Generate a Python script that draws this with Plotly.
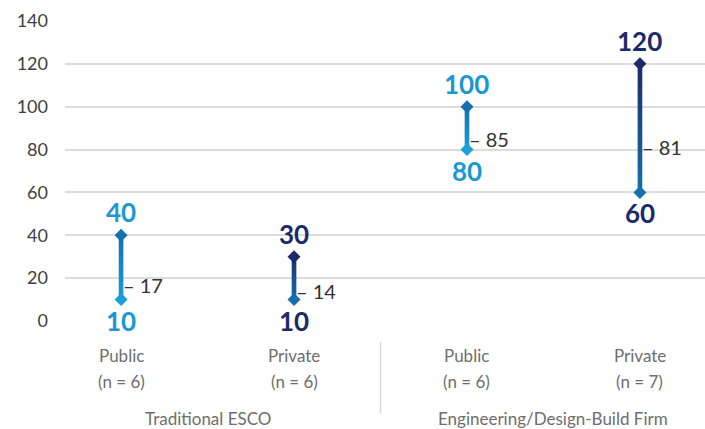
import plotly.graph_objects as go

categories = ["Public", "Private", "Public", "Private"]
n_labels = ["(n = 6)", "(n = 6)", "(n = 6)", "(n = 7)"]
groups = ["Traditional ESCO", "Engineering/Design-Build Firm"]
low = [10, 10, 80, 60]
high = [40, 30, 100, 120]
mean = [17, 14, 85, 81]
kind = ["public", "private", "public", "private"]

LIGHT = "#1b9ed9"
MID = "#1570b0"
NAVY = "#1c2a6b"
top_col = {"public": MID, "private": NAVY}
bot_col = {"public": LIGHT, "private": MID}
lab_col = {"public": "#1b97d4", "private": NAVY}
FONT = "Lato, Open Sans, sans-serif"

HW = 0.0135  # half bar width in x-axis units (~2.3 px)

fig = go.Figure()
xs = list(range(len(categories)))
for i in xs:
    k = kind[i]
    fig.add_trace(go.Scatter(
        x=[i - HW, i + HW, i + HW, i - HW, i - HW],
        y=[low[i], low[i], high[i], high[i], low[i]],
        mode="lines", line=dict(width=0), fill="toself",
        fillgradient=dict(type="vertical", start=low[i], stop=high[i],
                          colorscale=[[0, bot_col[k]], [1, top_col[k]]]),
        hoverinfo="skip", showlegend=False))
    fig.add_trace(go.Scatter(
        x=[i, i], y=[low[i], high[i]], mode="markers",
        marker=dict(symbol="diamond", size=10,
                    color=[bot_col[k], top_col[k]], line=dict(width=0)),
        hoverinfo="skip", showlegend=False))
    fig.add_annotation(x=i, y=high[i], text="<b>%d</b>" % high[i], showarrow=False,
                       yanchor="bottom", yshift=5,
                       font=dict(family=FONT, size=26, color=lab_col[k]))
    fig.add_annotation(x=i, y=low[i], text="<b>%d</b>" % low[i], showarrow=False,
                       yanchor="top", yshift=-3,
                       font=dict(family=FONT, size=26, color=lab_col[k]))
    fig.add_annotation(x=i, y=mean[i], text="– %d" % mean[i], showarrow=False,
                       xanchor="left", xshift=0,
                       font=dict(family=FONT, size=20, color="#333333"))
    fig.add_annotation(x=i, y=0, text=categories[i], showarrow=False,
                       yanchor="middle", yshift=-34,
                       font=dict(family=FONT, size=17, color="#6e6e6e"))
    fig.add_annotation(x=i, y=0, text=n_labels[i], showarrow=False,
                       yanchor="middle", yshift=-60,
                       font=dict(family=FONT, size=17, color="#6e6e6e"))

for gi, g in enumerate(groups):
    fig.add_annotation(x=0.5 + 2 * gi, y=0, text=g, showarrow=False,
                       yanchor="middle", yshift=-97,
                       font=dict(family=FONT, size=17, color="#6e6e6e"))

fig.add_shape(type="line", xref="x", yref="paper", x0=1.5, x1=1.5, y0=-0.07, y1=-0.31,
              line=dict(color="#d9d9d9", width=1.5))

fig.update_layout(
    width=705, height=429,
    margin=dict(l=65, r=0, t=21, b=108),
    plot_bgcolor="white", paper_bgcolor="white",
    xaxis=dict(range=[-0.324, 3.376], showgrid=False, showticklabels=False,
               zeroline=False, showline=False, fixedrange=True),
    yaxis=dict(range=[0, 140], dtick=20, showgrid=True, gridcolor="#dcdcdc",
               gridwidth=1.5, zeroline=False, showline=False, ticks="",
               ticklabelstandoff=16,
               tickfont=dict(family=FONT, size=18, color="#404040")),
)
for tr in fig.data:
    tr.cliponaxis = False

fig.write_html("out.html")
